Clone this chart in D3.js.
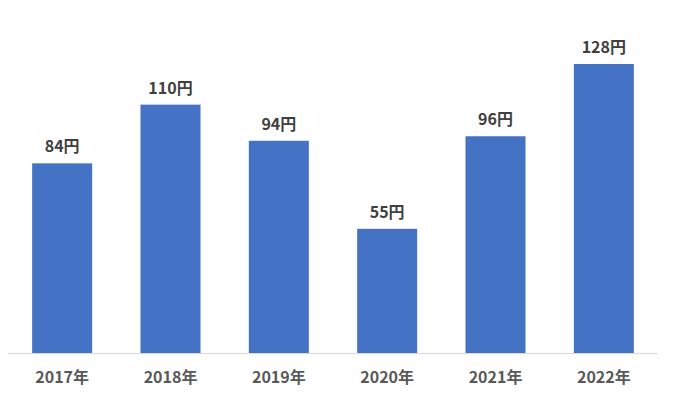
<!DOCTYPE html>
<html><head><meta charset="utf-8">
<script src="https://cdn.jsdelivr.net/npm/d3@7"></script>
<style>body{margin:0;background:#fff;}svg{display:block;}</style>
</head><body>
<svg id="c" width="700" height="410"></svg>
<script>
const categories = ["2017年","2018年","2019年","2020年","2021年","2022年"];
const values = [84,110,94,55,96,128];
const unit = "円";

const svg = d3.select("#c");
const font = "'Noto Sans CJK JP','Noto Sans',sans-serif";
const x = d3.scaleBand().domain(categories).range([8,658]).paddingInner(0.446).paddingOuter(0.223);
const y = d3.scaleLinear().domain([0,128]).range([353,64]);

svg.selectAll("rect.bar").data(values).enter().append("rect")
  .attr("class","bar")
  .attr("x",(d,i)=>x(categories[i]))
  .attr("width",x.bandwidth())
  .attr("y",d=>y(d))
  .attr("height",d=>y(0)-y(d))
  .attr("fill","#4472C4");

svg.append("line").attr("x1",8).attr("x2",658).attr("y1",353.5).attr("y2",353.5)
  .attr("stroke","#D9D9D9").attr("stroke-width",1);

svg.selectAll("text.val").data(values).enter().append("text")
  .attr("class","val")
  .attr("x",(d,i)=>x(categories[i])+x.bandwidth()/2)
  .attr("y",d=>y(d)-11)
  .attr("text-anchor","middle")
  .attr("font-family",font).attr("font-weight","bold").attr("font-size","16px")
  .attr("fill","#404040")
  .text(d=>d+unit);

const xAxis = d3.axisBottom(x).tickSize(0).tickPadding(0);
const g = svg.append("g").attr("transform","translate(0,353)").call(xAxis);
g.select(".domain").remove();
g.selectAll("text").attr("dy",0).attr("y",30)
  .attr("font-family",font).attr("font-weight","bold").attr("font-size","16px")
  .attr("fill","#595959");
</script>
</body></html>
